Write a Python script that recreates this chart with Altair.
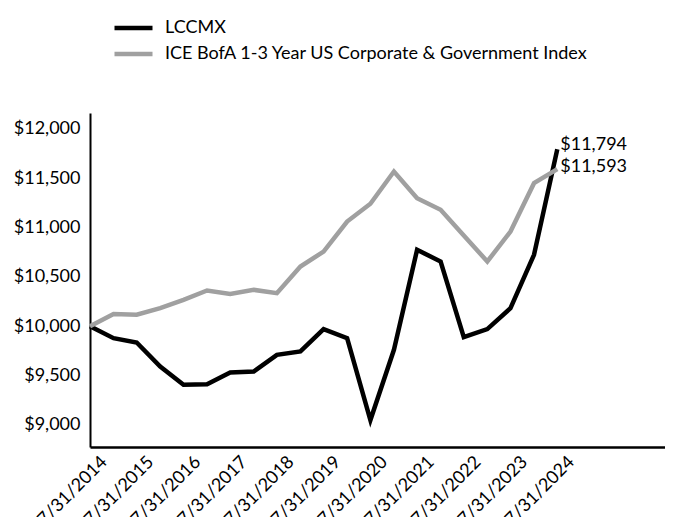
import altair as alt
import pandas as pd

dates = ["2014-07-31", "2015-01-31", "2015-07-31", "2016-01-31", "2016-07-31",
         "2017-01-31", "2017-07-31", "2018-01-31", "2018-07-31", "2019-01-31",
         "2019-07-31", "2020-01-31", "2020-07-31", "2021-01-31", "2021-07-31",
         "2022-01-31", "2022-07-31", "2023-01-31", "2023-07-31", "2024-01-31",
         "2024-07-31"]
lccmx = [10000, 9880, 9836, 9593, 9407, 9414, 9532, 9542, 9711, 9745,
         9972, 9880, 9050, 9762, 10775, 10657, 9891, 9972, 10184, 10725, 11794]
bench = [10000, 10124, 10117, 10184, 10269, 10363, 10329, 10370, 10336, 10606,
         10758, 11062, 11242, 11569, 11299, 11181, 10920, 10657, 10961, 11451, 11593]
series = ["LCCMX", "ICE BofA 1-3 Year US Corporate & Government Index"]
colors = ["#000000", "#A0A0A0"]
tick_years = list(range(2014, 2025))
y_ticks = [9000, 9500, 10000, 10500, 11000, 11500, 12000]
end_labels = ["$11,794", "$11,593"]

rows = []
for s, vals in zip(series, [lccmx, bench]):
    for d, v in zip(dates, vals):
        rows.append({"date": d, "value": v, "series": s})
df = pd.DataFrame(rows)

end_df = pd.DataFrame({
    "date": [dates[-1], dates[-1]],
    "value": [lccmx[-1], bench[-1]],
    "label": end_labels,
    "series": series,
})

FONT = "Lato"

x_enc = alt.X(
    "date:T",
    scale=alt.Scale(type="utc", domain=[alt.DateTime(year=2014, month=7, date=31, utc=True),
                                        alt.DateTime(year=2026, month=11, date=20, utc=True)]),
    axis=alt.Axis(
        values=[alt.DateTime(year=y, month=7, date=31, utc=True) for y in tick_years],
        labelExpr="utcFormat(datum.value, '%-m/%d/%Y')",
        labelAngle=-45, labelAlign="right", labelBaseline="middle",
        labelOffset=14, labelPadding=12, ticks=False, tickSize=0,
        grid=False, domainColor="black", domainWidth=2.5,
        labelFontSize=18, labelFont=FONT, labelColor="black", title=None,
        labelOverlap=False, labelBound=False,
    ),
)
y_enc = alt.Y(
    "value:Q",
    scale=alt.Scale(domain=[8777, 12162], nice=False, zero=False),
    axis=alt.Axis(
        values=y_ticks, format="$,.0f", ticks=False, tickSize=0, labelPadding=10,
        grid=False, domainColor="black", domainWidth=2,
        labelFontSize=18, labelFont=FONT, labelColor="black", title=None,
    ),
)

lines = alt.Chart(df).mark_line(strokeWidth=4.5, strokeJoin="miter").encode(
    x=x_enc,
    y=y_enc,
    color=alt.Color(
        "series:N",
        scale=alt.Scale(domain=series, range=colors),
        legend=alt.Legend(
            title=None, orient="none", legendX=22, legendY=-95,
            symbolType="stroke", symbolSize=1444, symbolStrokeWidth=4.5,
            labelFontSize=18, labelFont=FONT, labelColor="black",
            labelOffset=10, rowPadding=6, clipHeight=20, padding=0, labelLimit=600,
        ),
    ),
    order=alt.Order("date:T"),
)

text_top = alt.Chart(end_df).transform_filter(
    alt.datum.series == series[0]
).mark_text(
    align="left", baseline="middle", dx=3, dy=-4, fontSize=18, font=FONT, color="black"
).encode(x=alt.X("date:T"), y=alt.Y("value:Q"), text="label:N")

text_bot = alt.Chart(end_df).transform_filter(
    alt.datum.series == series[1]
).mark_text(
    align="left", baseline="middle", dx=3, dy=-2, fontSize=18, font=FONT, color="black"
).encode(x=alt.X("date:T"), y=alt.Y("value:Q"), text="label:N")

chart = alt.layer(lines, text_top, text_bot).properties(
    width=575, height=334,
    autosize=alt.AutoSizeParams(type="none"),
    padding={"left": 82, "top": 105, "right": 0, "bottom": 70},
).configure_view(stroke=None)

chart.save("out.html", embed_options={"renderer": "svg", "actions": False})
